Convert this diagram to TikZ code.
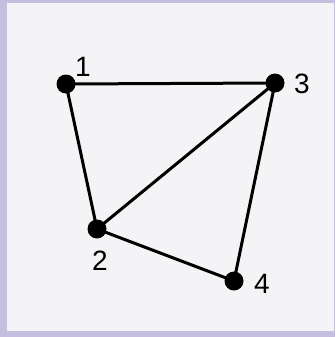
\documentclass[tikz,border=0pt]{standalone}
\usepackage{fontspec}
\setmainfont{Liberation Sans}
\definecolor{frame}{HTML}{C6BEDF}
\definecolor{paper}{HTML}{F4F4F7}
\begin{document}
\begin{tikzpicture}[x=1pt,y=-1pt,
  vertex/.style={circle,fill=black,inner sep=0pt,minimum size=19pt},
  edge/.style={line width=3pt,black},
  lbl/.style={font=\fontsize{28}{28}\selectfont,inner sep=0pt}]
\useasboundingbox (0,0) rectangle (335,337);
\fill[frame] (0,0) rectangle (335,337);
\fill[paper] (7,3) rectangle (334,331);
\node[vertex] (n1) at (66,84) {};
\node[vertex] (n3) at (275,83) {};
\node[vertex] (n2) at (97,229) {};
\node[vertex] (n4) at (234,281) {};
\draw[edge] (n1.center) -- (n3.center);
\draw[edge] (n1.center) -- (n2.center);
\draw[edge] (n2.center) -- (n3.center);
\draw[edge] (n2.center) -- (n4.center);
\draw[edge] (n3.center) -- (n4.center);
\node[lbl] (l1) at (83,67) {1};
\node[lbl] (l3) at (302,84) {3};
\node[lbl] (l2) at (100,261) {2};
\node[lbl] (l4) at (262,284) {4};
\end{tikzpicture}
\end{document}
